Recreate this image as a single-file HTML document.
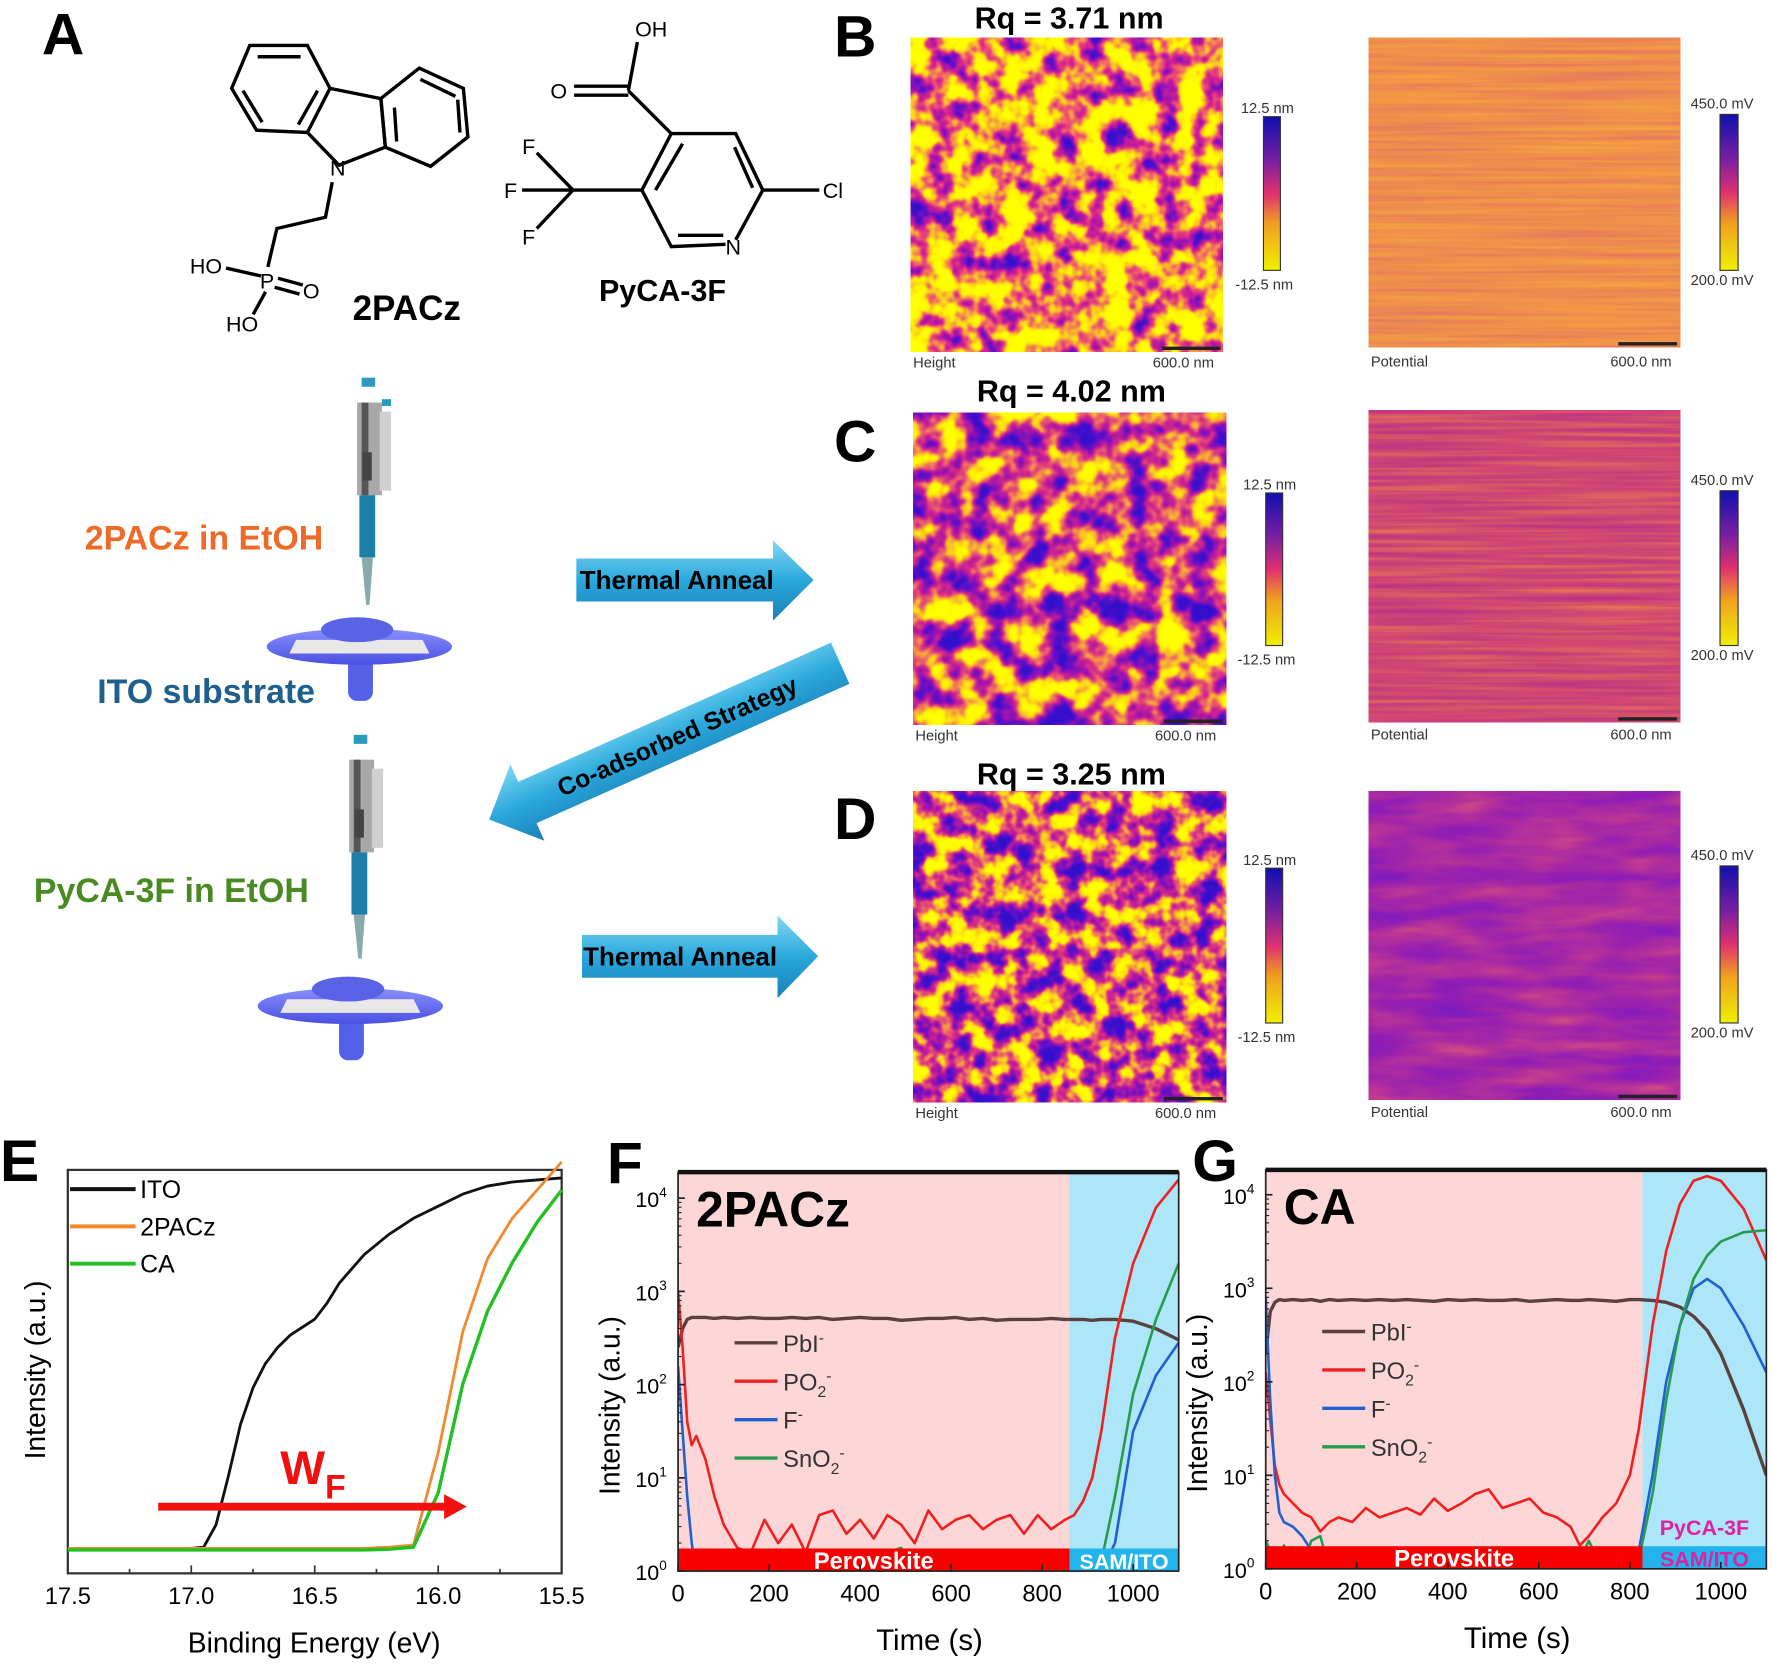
<!DOCTYPE html>
<html><head><meta charset="utf-8">
<style>
html,body{margin:0;padding:0;background:#fff;}
svg{display:block;}
text{font-family:"Liberation Sans",Arial,sans-serif;}
filter{color-interpolation-filters:sRGB;}
</style></head>
<body>
<svg id="fig" width="1772" height="1664" viewBox="0 0 1568 1472" xmlns="http://www.w3.org/2000/svg">
<defs>
<filter id="afmH1" x="0" y="0" width="100%" height="100%" color-interpolation-filters="sRGB">
  <feTurbulence type="fractalNoise" baseFrequency="0.045" numOctaves="3" seed="3"/>
  <feColorMatrix type="matrix" values="1 0 0 0 0 1 0 0 0 0 1 0 0 0 0 0 0 0 0 1"/>
  <feComponentTransfer>
    <feFuncR type="table" tableValues="1 1 1 1 1 1 1 0.98 0.95 0.85 0.65 0.4 0.25 0.2 0.2 0.2"/>
    <feFuncG type="table" tableValues="1 1 1 1 1 1 0.95 0.75 0.4 0.15 0.08 0.06 0.06 0.06 0.06 0.06"/>
    <feFuncB type="table" tableValues="0 0 0 0 0 0 0.02 0.15 0.4 0.55 0.68 0.78 0.8 0.8 0.8 0.8"/>
    <feFuncA type="table" tableValues="1 1"/>
  </feComponentTransfer>
</filter>
<filter id="afmH2" x="0" y="0" width="100%" height="100%" color-interpolation-filters="sRGB">
  <feTurbulence type="fractalNoise" baseFrequency="0.04" numOctaves="3" seed="11"/>
  <feColorMatrix type="matrix" values="1 0 0 0 0 1 0 0 0 0 1 0 0 0 0 0 0 0 0 1"/>
  <feComponentTransfer>
    <feFuncR type="table" tableValues="1 1 1 1 1 1 0.98 0.93 0.82 0.62 0.4 0.25 0.2 0.2 0.2 0.2"/>
    <feFuncG type="table" tableValues="1 1 1 1 1 0.95 0.75 0.4 0.15 0.08 0.06 0.06 0.06 0.06 0.06 0.06"/>
    <feFuncB type="table" tableValues="0 0 0 0 0 0.02 0.15 0.4 0.55 0.68 0.78 0.8 0.8 0.8 0.8 0.8"/>
    <feFuncA type="table" tableValues="1 1"/>
  </feComponentTransfer>
</filter>
<filter id="afmH3" x="0" y="0" width="100%" height="100%" color-interpolation-filters="sRGB">
  <feTurbulence type="fractalNoise" baseFrequency="0.05" numOctaves="3" seed="23"/>
  <feColorMatrix type="matrix" values="1 0 0 0 0 1 0 0 0 0 1 0 0 0 0 0 0 0 0 1"/>
  <feComponentTransfer>
    <feFuncR type="table" tableValues="1 1 1 1 1 1 0.98 0.93 0.82 0.62 0.4 0.25 0.2 0.2 0.2 0.2"/>
    <feFuncG type="table" tableValues="1 1 1 1 1 0.95 0.75 0.4 0.15 0.08 0.06 0.06 0.06 0.06 0.06 0.06"/>
    <feFuncB type="table" tableValues="0 0 0 0 0 0.02 0.15 0.4 0.55 0.68 0.78 0.8 0.8 0.8 0.8 0.8"/>
    <feFuncA type="table" tableValues="1 1"/>
  </feComponentTransfer>
</filter>
<filter id="potB" x="0" y="0" width="100%" height="100%" color-interpolation-filters="sRGB">
  <feTurbulence type="fractalNoise" baseFrequency="0.006 0.25" numOctaves="2" seed="5"/>
  <feColorMatrix type="matrix" values="1 0 0 0 0 1 0 0 0 0 1 0 0 0 0 0 0 0 0 1"/>
  <feComponentTransfer>
    <feFuncR type="table" tableValues="0.97 0.94 0.88"/>
    <feFuncG type="table" tableValues="0.68 0.56 0.42"/>
    <feFuncB type="table" tableValues="0.22 0.3 0.4"/>
    <feFuncA type="table" tableValues="1 1"/>
  </feComponentTransfer>
</filter>
<filter id="potC" x="0" y="0" width="100%" height="100%" color-interpolation-filters="sRGB">
  <feTurbulence type="fractalNoise" baseFrequency="0.006 0.25" numOctaves="2" seed="9"/>
  <feColorMatrix type="matrix" values="1 0 0 0 0 1 0 0 0 0 1 0 0 0 0 0 0 0 0 1"/>
  <feComponentTransfer>
    <feFuncR type="table" tableValues="0.93 0.82 0.7"/>
    <feFuncG type="table" tableValues="0.5 0.28 0.16"/>
    <feFuncB type="table" tableValues="0.3 0.45 0.55"/>
    <feFuncA type="table" tableValues="1 1"/>
  </feComponentTransfer>
</filter>
<filter id="potD" x="0" y="0" width="100%" height="100%" color-interpolation-filters="sRGB">
  <feTurbulence type="fractalNoise" baseFrequency="0.012 0.06" numOctaves="3" seed="17"/>
  <feColorMatrix type="matrix" values="1 0 0 0 0 1 0 0 0 0 1 0 0 0 0 0 0 0 0 1"/>
  <feComponentTransfer>
    <feFuncR type="table" tableValues="0.88 0.72 0.58 0.45"/>
    <feFuncG type="table" tableValues="0.38 0.2 0.12 0.1"/>
    <feFuncB type="table" tableValues="0.45 0.6 0.7 0.78"/>
    <feFuncA type="table" tableValues="1 1"/>
  </feComponentTransfer>
</filter>
<linearGradient id="cbar" x1="0" y1="0" x2="0" y2="1">
  <stop offset="0" stop-color="#1010b0"/><stop offset="0.3" stop-color="#8020a0"/>
  <stop offset="0.5" stop-color="#e03070"/><stop offset="0.7" stop-color="#f0a020"/>
  <stop offset="1" stop-color="#f0f000"/>
</linearGradient>
<linearGradient id="arrowG" x1="0" y1="0" x2="0" y2="1">
  <stop offset="0" stop-color="#7fd8f4"/><stop offset="0.5" stop-color="#2aa8dc"/><stop offset="1" stop-color="#1a80b8"/>
</linearGradient>
<linearGradient id="discG" x1="0" y1="0" x2="0" y2="1">
  <stop offset="0" stop-color="#8890ff"/><stop offset="1" stop-color="#4a50e0"/>
</linearGradient>
</defs>

<!-- Panel letters -->
<text x="37" y="48" font-size="52" font-weight="bold">A</text>
<text x="738" y="50" font-size="52" font-weight="bold">B</text>
<text x="738" y="408" font-size="52" font-weight="bold">C</text>
<text x="738" y="742" font-size="52" font-weight="bold">D</text>
<text x="0" y="1045" font-size="52" font-weight="bold">E</text>
<text x="537" y="1047" font-size="52" font-weight="bold">F</text>
<text x="1055" y="1045" font-size="52" font-weight="bold">G</text>

<!-- 2PACz molecule -->
<g stroke="#000" stroke-width="3" fill="none">
  <polygon points="221,40 272,40 292,78 272,117 227,115 205,78"/>
  <line x1="228" y1="50" x2="266" y2="50"/><line x1="215" y1="80" x2="232" y2="108"/><line x1="281" y1="80" x2="264" y2="110"/>
  <polyline points="292,78 337,87 341,130 300,146 272,117"/>
  <polygon points="337,87 371,60 410,78 414,121 381,147 341,130"/>
  <line x1="372" y1="70" x2="403" y2="85"/><line x1="405" y1="88" x2="407" y2="117"/><line x1="349" y1="95" x2="351" y2="125"/>
  <polyline points="294,161 288,192 245,202 237,236"/>
  <line x1="200" y1="237" x2="231" y2="244"/>
  <line x1="246" y1="246" x2="268" y2="252"/><line x1="243" y1="254" x2="265" y2="260"/>
  <line x1="235" y1="258" x2="224" y2="278"/>
</g>
<g font-size="19">
  <text x="292" y="155">N</text>
  <text x="168" y="242">HO</text>
  <text x="230" y="255">P</text>
  <text x="268" y="264">O</text>
  <text x="200" y="293">HO</text>
</g>
<text x="312" y="283" font-size="31" font-weight="bold">2PACz</text>

<!-- PyCA-3F molecule -->
<g stroke="#000" stroke-width="3" fill="none">
  <line x1="564" y1="37" x2="556" y2="80"/>
  <line x1="508" y1="76" x2="556" y2="76"/><line x1="508" y1="84" x2="556" y2="84"/>
  <line x1="556" y1="80" x2="594" y2="118"/>
  <polyline points="594,118 651,118 675,168 651,212"/>
  <polyline points="642,216 594,218 568,168 594,118"/>
  <line x1="604" y1="127" x2="580" y2="168"/><line x1="650" y1="130" x2="666" y2="166"/><line x1="600" y1="208" x2="640" y2="208"/>
  <line x1="568" y1="168" x2="507" y2="168"/>
  <line x1="507" y1="168" x2="475" y2="135"/><line x1="507" y1="168" x2="462" y2="168"/><line x1="507" y1="168" x2="475" y2="202"/>
  <line x1="675" y1="168" x2="725" y2="168"/>
</g>
<g font-size="19">
  <text x="562" y="32">OH</text>
  <text x="487" y="87">O</text>
  <text x="462" y="136">F</text>
  <text x="446" y="175">F</text>
  <text x="462" y="216">F</text>
  <text x="728" y="175">Cl</text>
  <text x="642" y="225">N</text>
</g>
<text x="530" y="266" font-size="27" font-weight="bold">PyCA-3F</text>

<!-- Pipette 1 + substrate -->
<g>
  <rect x="320" y="334" width="12" height="8" fill="#2a9ac0"/>
  <rect x="316" y="356" width="22" height="82" fill="#a8a8a8"/>
  <rect x="320" y="356" width="6" height="82" fill="#555"/>
  <rect x="336" y="364" width="10" height="70" fill="#d0d0d0"/>
  <rect x="338" y="353" width="8" height="6" fill="#2a9ac0"/>
  <rect x="321" y="400" width="8" height="25" fill="#444"/>
  <rect x="318" y="438" width="14" height="55" fill="#1d7fa8"/>
  <polygon points="320,493 330,493 327,535 324,535" fill="#8aa"/>
</g>
<g>
  <rect x="308" y="580" width="22" height="40" rx="8" fill="#5560e8"/>
  <ellipse cx="318" cy="572" rx="82" ry="16" fill="url(#discG)"/>
  <polygon points="262,566 374,566 380,578 256,578" fill="#e8e8e8"/>
  <ellipse cx="316" cy="557" rx="32" ry="11" fill="#5a62e6"/>
</g>
<text x="75" y="486" font-size="30" font-weight="bold" fill="#ee6a28">2PACz in EtOH</text>
<text x="86" y="622" font-size="30" font-weight="bold" fill="#1f5f8e">ITO substrate</text>

<!-- Pipette 2 + substrate -->
<g>
  <rect x="313" y="650" width="12" height="8" fill="#2a9ac0"/>
  <rect x="309" y="672" width="22" height="82" fill="#a8a8a8"/>
  <rect x="313" y="672" width="6" height="82" fill="#555"/>
  <rect x="329" y="680" width="10" height="70" fill="#d0d0d0"/>
  <rect x="314" y="716" width="8" height="25" fill="#444"/>
  <rect x="311" y="754" width="14" height="55" fill="#1d7fa8"/>
  <polygon points="313,809 323,809 320,848 317,848" fill="#8aa"/>
</g>
<g>
  <rect x="300" y="898" width="22" height="40" rx="8" fill="#5560e8"/>
  <ellipse cx="310" cy="890" rx="82" ry="16" fill="url(#discG)"/>
  <polygon points="254,884 366,884 372,896 248,896" fill="#e8e8e8"/>
  <ellipse cx="308" cy="875" rx="32" ry="11" fill="#5a62e6"/>
</g>
<text x="30" y="798" font-size="30" font-weight="bold" fill="#4a8a22">PyCA-3F in EtOH</text>

<!-- Arrows -->
<g>
  <polygon points="510,494 684,494 684,478 720,513 684,549 684,532 510,532" fill="url(#arrowG)"/>
  <text x="513" y="521" font-size="23" font-weight="bold">Thermal Anneal</text>
</g>
<g>
  <polygon points="515,827 688,827 688,810 724,846 688,883 688,865 515,865" fill="url(#arrowG)"/>
  <text x="516" y="854" font-size="23" font-weight="bold">Thermal Anneal</text>
</g>
<g transform="translate(590,655) rotate(-24)">
  <polygon points="168,-20 -135,-20 -135,-37 -172,0 -135,37 -135,20 168,20" fill="url(#arrowG)"/>
  <text x="10" y="8" font-size="22" font-weight="bold" text-anchor="middle">Co-adsorbed Strategy</text>
</g>

<!-- AFM panels -->
<g id="afm"></g>

<!-- Chart E -->
<g id="chartE"></g>
<!-- Chart F -->
<g id="chartF"></g>
<!-- Chart G -->
<g id="chartG"></g>
</svg>

<script>
// ---------- AFM data ----------
const afmRq = ["Rq = 3.71 nm", "Rq = 4.02 nm", "Rq = 3.25 nm"];
const heightScale = ["12.5 nm", "-12.5 nm"];
const potentialScale = ["450.0 mV", "200.0 mV"];

// ---------- Chart E data ----------
const eX = [17.5,17.2,17.0,16.95,16.9,16.85,16.8,16.75,16.7,16.65,16.6,16.55,16.5,16.45,16.4,16.3,16.2,16.1,16.0,15.9,15.8,15.7,15.6,15.5];
const eITO = [0.062,0.062,0.062,0.065,0.12,0.24,0.37,0.46,0.52,0.56,0.59,0.61,0.63,0.67,0.72,0.79,0.84,0.88,0.91,0.94,0.96,0.97,0.975,0.98];
const e2PACz = [0.062,0.062,0.062,0.062,0.062,0.062,0.062,0.062,0.062,0.062,0.062,0.062,0.062,0.062,0.062,0.062,0.065,0.07,0.3,0.6,0.78,0.88,0.95,1.02];
const eCA = [0.058,0.058,0.058,0.058,0.058,0.058,0.058,0.058,0.058,0.058,0.058,0.058,0.058,0.058,0.058,0.058,0.06,0.065,0.2,0.47,0.65,0.77,0.87,0.95];
const eTicks = [17.5,17.0,16.5,16.0,15.5];
const eTickLabels = ["17.5","17.0","16.5","16.0","15.5"];
const eLegend = ["ITO","2PACz","CA"];

// ---------- Chart F data (log10 intensity) ----------
const fT = [0,10,20,30,40,60,80,100,130,160,190,220,250,280,310,340,370,400,430,460,490,520,550,580,610,640,670,700,730,760,790,820,850,870,890,910,930,960,1000,1050,1100];
const fPbI = [2.4,2.6,2.7,2.72,2.72,2.72,2.71,2.72,2.71,2.72,2.71,2.71,2.72,2.71,2.72,2.7,2.71,2.72,2.71,2.71,2.69,2.7,2.71,2.71,2.72,2.7,2.71,2.69,2.7,2.7,2.7,2.71,2.7,2.7,2.7,2.69,2.7,2.7,2.68,2.6,2.48];
const fPO2 = [3.0,2.4,1.6,1.35,1.45,1.2,0.8,0.5,0.25,0.2,0.55,0.3,0.5,0.2,0.6,0.65,0.4,0.55,0.35,0.6,0.5,0.3,0.65,0.45,0.55,0.6,0.45,0.55,0.6,0.4,0.6,0.45,0.55,0.6,0.75,1.0,1.5,2.5,3.3,3.9,4.2];
const fF = [2.2,1.5,0.8,0.3,0,0,0,0,0,0,0,0,0,0,0,0,0,0,0,0,0,0,0,0,0,0,0,0,0,0,0,0,0,0,0,0,0,0.3,1.5,2.1,2.45];
const fSnO2 = [0.05,0.05,0.05,0.05,0.05,0.05,0.05,0.05,0.05,0.05,0.05,0.05,0.05,0.05,0.05,0.05,0.05,0.05,0.1,0.2,0.25,0.05,0.05,0.05,0.05,0.05,0.05,0.05,0.05,0.05,0.05,0.05,0.05,0.05,0.05,0.05,0.1,0.8,1.9,2.7,3.3];

// ---------- Chart G data ----------
const gT = [0,10,20,30,40,60,80,100,120,140,160,190,220,250,280,310,340,370,400,430,460,490,520,550,580,610,640,670,690,710,740,770,800,820,850,880,910,940,970,1000,1050,1100];
const gPbI = [2.3,2.75,2.85,2.88,2.87,2.88,2.87,2.88,2.86,2.88,2.87,2.88,2.87,2.88,2.87,2.88,2.87,2.86,2.88,2.87,2.88,2.87,2.87,2.88,2.86,2.87,2.88,2.87,2.87,2.88,2.87,2.86,2.88,2.88,2.87,2.85,2.8,2.7,2.55,2.3,1.7,1.0];
const gPO2 = [2.1,1.6,1.1,0.9,0.8,0.7,0.6,0.55,0.4,0.5,0.55,0.5,0.65,0.55,0.6,0.65,0.58,0.75,0.62,0.7,0.8,0.85,0.65,0.7,0.75,0.6,0.55,0.45,0.25,0.35,0.55,0.7,1.0,1.5,2.6,3.4,3.9,4.15,4.2,4.15,3.85,3.3];
const gF = [2.9,1.8,1.0,0.6,0.5,0.45,0.35,0.2,0.1,0.05,0,0,0,0,0,0,0,0,0,0,0,0,0,0,0,0,0,0,0,0,0,0,0.1,0.2,1.0,2.0,2.6,3.0,3.1,3.0,2.6,2.1];
const gSnO2 = [0.3,0.2,0.1,0.05,0.25,0.1,0,0.3,0.35,0,0.05,0,0,0,0,0,0,0,0,0,0,0,0,0,0,0,0,0,0.1,0.3,0,0,0,0.1,0.8,1.8,2.6,3.1,3.35,3.5,3.6,3.62];

const tTicks = [0,200,400,600,800,1000];
const tTickLabels = ["0","200","400","600","800","1000"];
const logTicks = [0,1,2,3,4];
const ionNames = ["PbI","PO","F","SnO"];

const NS = "http://www.w3.org/2000/svg";
function mk(tag, attrs, parent, txt){
  const el = document.createElementNS(NS, tag);
  for (const k in attrs) el.setAttribute(k, attrs[k]);
  if (txt !== undefined) el.textContent = txt;
  parent.appendChild(el);
  return el;
}

// ---------- AFM ----------
(function(){
  const g = document.getElementById('afm');
  const rows = [
    {hx:806,hy:33,hw:276,hh:278,cb:103,ch:136,px:1211,py:33,ph:274,hf:'afmH1',pf:'potB',ty:25,ly:325},
    {hx:808,hy:365,hw:277,hh:276,cb:436,ch:135,px:1211,py:363,ph:276,hf:'afmH2',pf:'potC',ty:355,ly:655},
    {hx:808,hy:700,hw:277,hh:275,cb:768,ch:137,px:1211,py:700,ph:273,hf:'afmH3',pf:'potD',ty:694,ly:989}
  ];
  rows.forEach((r,i)=>{
    const h = mk('rect',{x:r.hx,y:r.hy,width:r.hw,height:r.hh,filter:'url(#'+r.hf+')'},g);
    
    
    const p = mk('rect',{x:r.px,y:r.py,width:276,height:r.ph,filter:'url(#'+r.pf+')'},g);
    
    
    const t = mk('text',{x:r.hx+140,y:r.ty,'font-size':27,'font-weight':'bold','text-anchor':'middle'},g,afmRq[i]);
    
    
    const cx1 = r.hx+312;
    const c1 = mk('rect',{x:cx1,y:r.cb,width:15,height:r.ch,fill:'url(#cbar)',stroke:'#333','stroke-width':1},g);
    
    
    mk('text',{x:cx1-20,y:r.cb-3,'font-size':13,fill:'#333'},g,heightScale[0]);
    mk('text',{x:cx1-25,y:r.cb+r.ch+17,'font-size':13,fill:'#333'},g,heightScale[1]);
    const c2 = mk('rect',{x:1522,y:r.cb-2,width:16,height:r.ch+2,fill:'url(#cbar)',stroke:'#333','stroke-width':1},g);
    
    
    mk('text',{x:1496,y:r.cb-7,'font-size':13,fill:'#333'},g,potentialScale[0]);
    mk('text',{x:1496,y:r.cb+r.ch+13,'font-size':13,fill:'#333'},g,potentialScale[1]);
    mk('text',{x:r.hx+2,y:r.ly,'font-size':13,fill:'#333'},g,'Height');
    mk('text',{x:r.hx+214,y:r.ly,'font-size':13,fill:'#333'},g,'600.0 nm');
    mk('line',{x1:r.hx+222,x2:r.hx+274,y1:r.hy+r.hh-3,y2:r.hy+r.hh-3,stroke:'#222','stroke-width':3},g);
    mk('text',{x:1213,y:r.ly-1,'font-size':13,fill:'#333'},g,'Potential');
    mk('text',{x:1425,y:r.ly-1,'font-size':13,fill:'#333'},g,'600.0 nm');
    mk('line',{x1:1432,x2:1484,y1:r.py+r.ph-3,y2:r.py+r.ph-3,stroke:'#222','stroke-width':3},g);
  });
})();

// ---------- Chart E ----------
(function(){
  const g = document.getElementById('chartE');
  const L=60,R=497,T=1035,B=1392;
  const xs = v => L + (17.5 - v)/2.0*(R-L);
  const ys = v => B - v*(B-T);
  mk('rect',{x:L,y:T,width:R-L,height:B-T,fill:'none',stroke:'#333','stroke-width':2},g);
  eTicks.forEach((v,i)=>{
    mk('line',{x1:xs(v),x2:xs(v),y1:B,y2:B-7,stroke:'#333','stroke-width':1.5},g);
    if(i<eTicks.length-1) mk('line',{x1:xs(v-0.25),x2:xs(v-0.25),y1:B,y2:B-4,stroke:'#333','stroke-width':1.5},g);
    const t = mk('text',{x:xs(v),y:B+27,'font-size':21,'text-anchor':'middle'},g,eTickLabels[i]);
    
    
  });
  const xt = mk('text',{x:278,y:1462,'font-size':25,'text-anchor':'middle'},g,'Binding Energy (eV)');
  
  
  const yt = mk('text',{x:0,y:0,'font-size':25,'text-anchor':'middle',transform:'translate(40,1212) rotate(-90)'},g,'Intensity (a.u.)');
  
  
  const series = [[eITO,'#111'],[e2PACz,'#f08a30'],[eCA,'#22c022']];
  series.forEach((s,k)=>{
    const d = eX.map((x,i)=>(i?'L':'M')+xs(x).toFixed(1)+','+ys(s[0][i]).toFixed(1)).join('');
    const p = mk('path',{d:d,fill:'none',stroke:s[1],'stroke-width':k==2?3:2.5,'stroke-linejoin':'round'},g);
    
    
    const ly = 1052 + k*33;
    mk('line',{x1:62,x2:120,y1:ly,y2:ly,stroke:s[1],'stroke-width':3.5},g);
    const lt = mk('text',{x:124,y:ly+8,'font-size':22},g,eLegend[k]);
    
    
  });
  mk('line',{x1:140,x2:395,y1:1333,y2:1333,stroke:'#f01010','stroke-width':7},g);
  mk('polygon',{points:'393,1322 413,1333 393,1344',fill:'#f01010'},g);
  const wf = mk('text',{x:248,y:1313,'font-size':42,'font-weight':'bold',fill:'#f01010'},g);
  
  
  mk('tspan',{},wf,'W');
  mk('tspan',{dy:13,'font-size':30},wf,'F');
})();

// ---------- ToF charts ----------
function tofChart(id, box, split, data, title, extra){
  const g = document.getElementById(id);
  const {L,R,T,B} = box;
  const xs = v => L + v/1100*(R-L);
  const dec = (B - (box.y4)) / 4;
  const ys = v => B - v*dec;
  mk('rect',{x:L,y:T,width:xs(split)-L,height:B-T,fill:'#fdd7d7'},g);
  mk('rect',{x:xs(split),y:T,width:R-xs(split),height:B-T,fill:'#ade6f8'},g);
  const cp = 'clip-'+id;
  const cpe = mk('clipPath',{id:cp},g);
  mk('rect',{x:L,y:T,width:R-L,height:B-T},cpe);
  const cols = ['#5a4040','#f02020','#2060d0','#2a9a50'];
  const names = ['pbi','po2','f','sno2'];
  const lines = mk('g',{'clip-path':'url(#'+cp+')'},g);
  data.series.forEach((s,k)=>{
    const d = data.t.map((x,i)=>(i?'L':'M')+xs(x).toFixed(1)+','+ys(s[i]).toFixed(1)).join('');
    const p = mk('path',{d:d,fill:'none',stroke:cols[k],'stroke-width':k==0?3:2.3,'stroke-linejoin':'round'},lines);
    
    
  });
  const by = B-20;
  mk('rect',{x:L,y:by,width:xs(split)-L,height:20,fill:'#f80000'},g);
  mk('rect',{x:xs(split),y:by,width:R-xs(split),height:20,fill:'#22b4ea'},g);
  const pt = mk('text',{x:(L+xs(split))/2,y:by+18,'font-size':21,'font-weight':'bold',fill:'#fff','text-anchor':'middle'},g,'Perovskite');
  
  
  const st = mk('text',{x:(xs(split)+R)/2,y:by+18,'font-size':19,'font-weight':'bold',fill:extra?'#e020a0':'#fff','text-anchor':'middle'},g,'SAM/ITO');
  
  
  if(extra){
    const e = mk('text',{x:(xs(split)+R)/2,y:by-10,'font-size':19,'font-weight':'bold',fill:'#e020a0','text-anchor':'middle'},g,extra);
    
    
  }
  mk('rect',{x:L,y:T,width:R-L,height:B-T,fill:'none',stroke:'#222','stroke-width':1.5},g);
  mk('line',{x1:L,x2:R,y1:T,y2:T,stroke:'#111','stroke-width':4},g);
  tTicks.forEach((v,i)=>{
    mk('line',{x1:xs(v),x2:xs(v),y1:B,y2:B-6,stroke:'#222','stroke-width':1.5},g);
    const t = mk('text',{x:xs(v),y:B+27,'font-size':21,'text-anchor':'middle'},g,tTickLabels[i]);
    
    
  });
  logTicks.forEach(v=>{
    mk('line',{x1:L,x2:L+6,y1:ys(v),y2:ys(v),stroke:'#222','stroke-width':1.5},g);
    for(let m=2;m<10 && v<4;m++){
      const yy = ys(v+Math.log10(m));
      mk('line',{x1:L,x2:L+3,y1:yy,y2:yy,stroke:'#222','stroke-width':1},g);
    }
    const t = mk('text',{x:L-10,y:ys(v)+8,'font-size':19,'text-anchor':'end'},g);
    
    
    mk('tspan',{},t,'10');
    mk('tspan',{dy:-9,'font-size':12},t,String(v));
  });
  const xt = mk('text',{x:(L+R)/2+1,y:B+70,'font-size':26,'text-anchor':'middle'},g,'Time (s)');
  
  
  const yt = mk('text',{x:0,y:0,'font-size':25,'text-anchor':'middle',transform:'translate('+(L-52)+','+((T+B)/2+30)+') rotate(-90)'},g,'Intensity (a.u.)');
  
  
  const tt = mk('text',{x:L+16,y:T+48,'font-size':44,'font-weight':'bold'},g,title);
  
  
  const subs = [['','-'],['2','-'],['','-'],['2','-']];
  ionNames.forEach((n,k)=>{
    const ly = data.legY + k*34;
    mk('line',{x1:L+50,x2:L+88,y1:ly,y2:ly,stroke:cols[k],'stroke-width':3},g);
    const t = mk('text',{x:L+93,y:ly+8,'font-size':21,fill:'#333'},g);
    
    
    mk('tspan',{},t,n);
    if(subs[k][0]) mk('tspan',{dy:6,'font-size':14},t,subs[k][0]);
    mk('tspan',{dy:subs[k][0]?-14:-8,'font-size':14},t,subs[k][1]);
  });
}
tofChart('chartF',{L:600,R:1043,T:1037,B:1390,y4:1060},860,{t:fT,series:[fPbI,fPO2,fF,fSnO2],legY:1188},'2PACz',null);
tofChart('chartG',{L:1120,R:1563,T:1035,B:1388,y4:1057},828,{t:gT,series:[gPbI,gPO2,gF,gSnO2],legY:1178},'CA','PyCA-3F');
</script>
</body></html>
